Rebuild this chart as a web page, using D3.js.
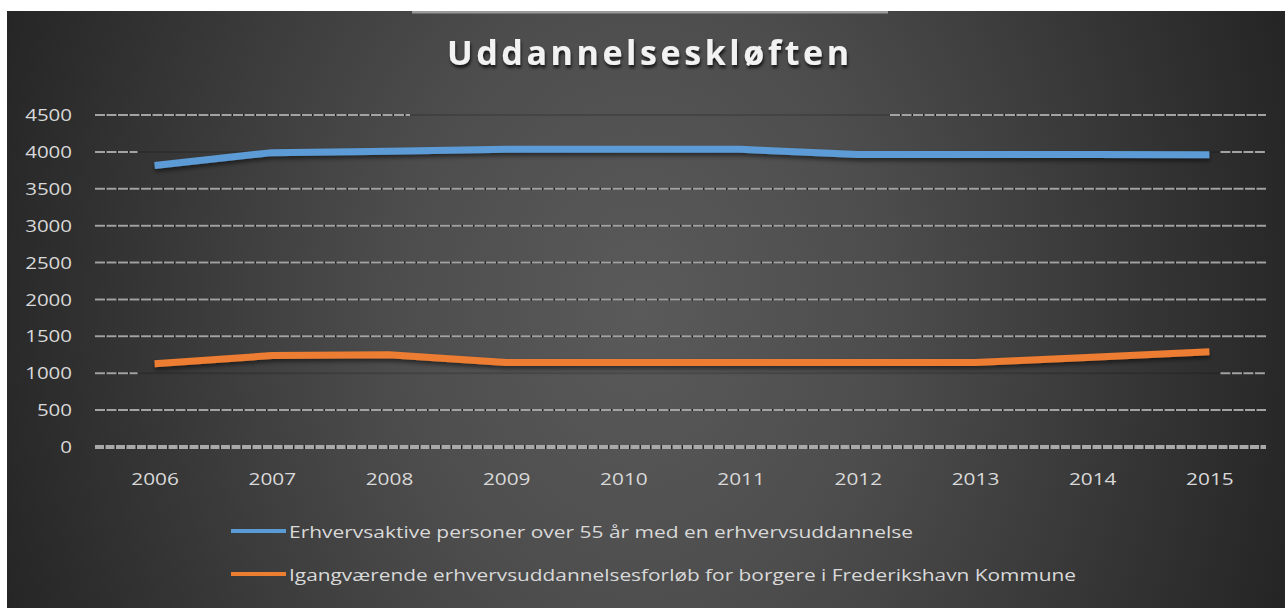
<!DOCTYPE html>
<html>
<head>
<meta charset="utf-8">
<script src="https://cdn.jsdelivr.net/npm/d3@7"></script>
<style>
  html, body { margin: 0; padding: 0; background: #fff; }
  svg { display: block; }
  text { font-family: "Open Sans", sans-serif; }
</style>
</head>
<body>
<script>
// chart values
const years = ["2006", "2007", "2008", "2009", "2010", "2011", "2012", "2013", "2014", "2015"];
const erhvervsaktive = [3815, 3990, 4010, 4035, 4035, 4035, 3965, 3965, 3965, 3960];
const igangvaerende = [1128, 1240, 1250, 1145, 1145, 1145, 1145, 1145, 1218, 1290];
const yTicks = [0, 500, 1000, 1500, 2000, 2500, 3000, 3500, 4000, 4500];
const seriesNames = [
  "Erhvervsaktive personer over 55 år med en erhvervsuddannelse",
  "Igangværende erhvervsuddannelsesforløb for borgere i Frederikshavn Kommune"
];
const seriesColors = ["#5b9bd5", "#ed7d31"];

const W = 1285, H = 608;
const svg = d3.select("body").append("svg").attr("width", W).attr("height", H);
const defs = svg.append("defs");

const grad = defs.append("radialGradient")
  .attr("id", "bg")
  .attr("gradientUnits", "userSpaceOnUse")
  .attr("cx", 0).attr("cy", 0).attr("r", 1)
  .attr("gradientTransform", "translate(640,310) scale(690,900)");
grad.append("stop").attr("offset", 0).attr("stop-color", "#5a5a5a");
grad.append("stop").attr("offset", 0.35).attr("stop-color", "#4d4d4d");
grad.append("stop").attr("offset", 1).attr("stop-color", "#242424");

const shadow = defs.append("filter").attr("id", "shadow")
  .attr("x", "-5%").attr("y", "-50%").attr("width", "110%").attr("height", "300%");
shadow.append("feDropShadow").attr("dx", 0).attr("dy", 3).attr("stdDeviation", 2)
  .attr("flood-color", "#000").attr("flood-opacity", 0.5);

const tshadow = defs.append("filter").attr("id", "tshadow")
  .attr("x", "-10%").attr("y", "-30%").attr("width", "120%").attr("height", "180%");
tshadow.append("feDropShadow").attr("dx", 1).attr("dy", 3).attr("stdDeviation", 1.5)
  .attr("flood-color", "#000").attr("flood-opacity", 0.7);

// background panel
svg.append("rect").attr("x", 7).attr("y", 11).attr("width", W - 7).attr("height", H - 11)
  .attr("fill", "url(#bg)");
svg.append("rect").attr("x", 412).attr("y", 11).attr("width", 476).attr("height", 2.5)
  .attr("fill", "#9a9a9a");

const x = d3.scalePoint().domain(years).range([96, 1268]).padding(0.5);
const y = d3.scaleLinear().domain([0, 4500]).range([447, 115]);
const gx0 = 95, gx1 = 1266;

// gridlines
const grid = svg.append("g");
const gapL = x(years[0]) - 17, gapR = x(years[years.length - 1]) + 11;
yTicks.filter(v => v > 0).forEach(v => {
  let segs = [[gx0, gx1]];
  if (v === 4000 || v === 1000) segs = [[gx0, gapL], [gapR, gx1]];
  if (v === 4500) segs = [[gx0, 410], [890, gx1]];
  segs.forEach(s => {
    grid.append("line").attr("x1", s[0]).attr("x2", s[1]).attr("y1", y(v)).attr("y2", y(v))
      .attr("stroke", "#1e1e1e").attr("stroke-width", 2);
    grid.append("line").attr("x1", s[0]).attr("x2", s[1]).attr("y1", y(v)).attr("y2", y(v))
      .attr("stroke", "#a3a3a3").attr("stroke-width", 2).attr("stroke-dasharray", "10 1.5");
  });
  if (segs.length > 1) {
    grid.append("line").attr("x1", segs[0][1]).attr("x2", segs[1][0]).attr("y1", y(v)).attr("y2", y(v))
      .attr("stroke", "#000").attr("stroke-opacity", 0.15).attr("stroke-width", 2);
  }
});
// zero line
grid.append("line").attr("x1", gx0).attr("x2", gx1).attr("y1", y(0)).attr("y2", y(0))
  .attr("stroke", "#2a2a2a").attr("stroke-width", 4);
grid.append("line").attr("x1", gx0).attr("x2", gx1).attr("y1", y(0)).attr("y2", y(0))
  .attr("stroke", "#a9a9a9").attr("stroke-width", 4).attr("stroke-dasharray", "9 1.5");

// axes labels
const yAxis = d3.axisLeft(y).tickValues(yTicks).tickFormat(d3.format("d")).tickSize(0).tickPadding(0);
const ya = svg.append("g").attr("transform", "translate(72,0)").call(yAxis);
ya.select(".domain").remove();
ya.selectAll("text").attr("fill", "#d9d9d9").style("font-size", "16px")
  .attr("dy", "0.35em")
  .each(function () {
    const n = this.getComputedTextLength();
    d3.select(this).attr("textLength", n * 1.28).attr("lengthAdjust", "spacingAndGlyphs");
  });

const xAxis = d3.axisBottom(x).tickSize(0).tickPadding(0);
const xa = svg.append("g").attr("transform", "translate(0,485)").call(xAxis);
xa.select(".domain").remove();
xa.selectAll("text").attr("fill", "#d9d9d9").style("font-size", "16px").attr("dy", 0)
  .each(function () {
    const n = this.getComputedTextLength();
    d3.select(this).attr("textLength", n * 1.3).attr("lengthAdjust", "spacingAndGlyphs");
  });

// series lines
const line = d3.line().x((d, i) => x(years[i])).y(d => y(d));
[erhvervsaktive, igangvaerende].forEach((s, i) => {
  svg.append("path").datum(s).attr("d", line)
    .attr("fill", "none").attr("stroke", seriesColors[i]).attr("stroke-width", 7)
    .attr("stroke-linejoin", "miter")
    .attr("filter", "url(#shadow)");
});

// title
svg.append("text").attr("x", 648).attr("y", 65).attr("text-anchor", "middle")
  .attr("fill", "#f2f2f2").style("font-size", "34px").style("font-weight", "bold")
  .attr("textLength", 402).attr("lengthAdjust", "spacing")
  .attr("filter", "url(#tshadow)")
  .text("Uddannelseskløften");

// legend
const legendY = [531, 574];
const legendW = [624, 787];
const lg = svg.append("g");
seriesNames.forEach((name, i) => {
  lg.append("line").attr("x1", 231).attr("x2", 286).attr("y1", legendY[i]).attr("y2", legendY[i])
    .attr("stroke", seriesColors[i]).attr("stroke-width", 4);
  lg.append("text").attr("x", 289).attr("y", legendY[i] + 7)
    .attr("fill", "#d9d9d9").style("font-size", "17px")
    .attr("textLength", legendW[i]).attr("lengthAdjust", "spacingAndGlyphs")
    .text(name);
});
</script>
</body>
</html>
